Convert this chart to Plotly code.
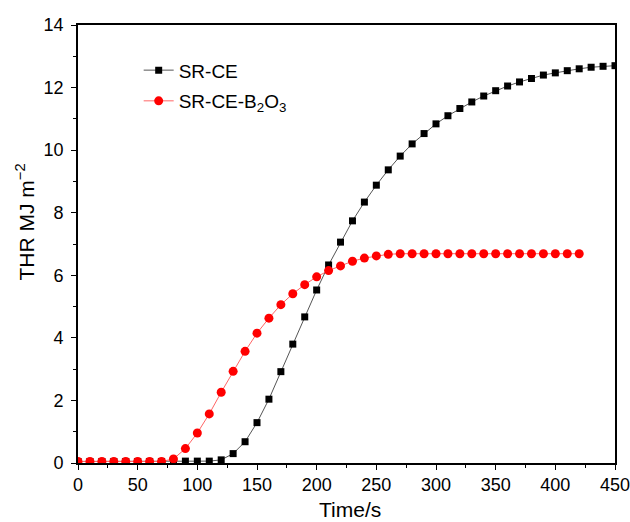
import plotly.graph_objects as go

# Time axis (s), sampled every 10 s
time_sr_ce = list(range(0, 451, 10))
time_sr_ce_b2o3 = list(range(0, 421, 10))

# Total heat release (MJ m^-2)
thr_sr_ce = [
    0.05, 0.05, 0.05, 0.05, 0.05, 0.05, 0.05, 0.05, 0.05, 0.06,
    0.06, 0.06, 0.10, 0.30, 0.68, 1.29, 2.04, 2.92, 3.80, 4.67,
    5.53, 6.33, 7.06, 7.74, 8.34, 8.88, 9.37, 9.81, 10.20, 10.53,
    10.84, 11.10, 11.33, 11.54, 11.73, 11.90, 12.05, 12.18, 12.29, 12.40,
    12.47, 12.54, 12.60, 12.65, 12.68, 12.70,
]
thr_sr_ce_b2o3 = [
    0.05, 0.05, 0.05, 0.05, 0.05, 0.05, 0.05, 0.05, 0.13, 0.46,
    0.96, 1.57, 2.26, 2.93, 3.57, 4.15, 4.63, 5.06, 5.41, 5.70,
    5.95, 6.15, 6.30, 6.45, 6.55, 6.62, 6.67, 6.69, 6.69, 6.69,
    6.69, 6.69, 6.69, 6.69, 6.69, 6.69, 6.69, 6.69, 6.69, 6.69,
    6.69, 6.69, 6.69,
]

FONT = "Liberation Sans, Arial, Helvetica, sans-serif"

fig = go.Figure()
fig.add_trace(go.Scatter(
    x=time_sr_ce, y=thr_sr_ce, name="SR-CE", legendgroup="a",
    mode="lines+markers",
    line=dict(color="#555555", width=1),
    marker=dict(symbol="square", size=7, color="black"),
))
fig.add_trace(go.Scatter(
    x=time_sr_ce_b2o3, y=thr_sr_ce_b2o3, name="SR-CE-B<sub>2</sub>O<sub>3</sub>",
    legendgroup="b",
    mode="lines+markers",
    line=dict(color="#ff6666", width=1),
    marker=dict(symbol="circle", size=9, color="red"),
))

axis_common = dict(
    showline=True, linecolor="black", linewidth=1.6, mirror=True,
    ticks="outside", ticklen=5, tickwidth=1.2, tickcolor="black",
    showgrid=False, zeroline=False, automargin=False,
    tickfont=dict(family=FONT, size=18, color="black"),
)

fig.update_xaxes(
    range=[0, 450], dtick=50, tick0=0,
    ticklabeloverflow="allow",
    minor=dict(ticks="outside", ticklen=3, tickwidth=1.2, tickcolor="black", dtick=25),
    **axis_common,
)
fig.update_yaxes(
    range=[0, 14], dtick=2, tick0=0,
    ticklabelstandoff=4,
    minor=dict(ticks="outside", ticklen=3, tickwidth=1.2, tickcolor="black", dtick=1),
    **axis_common,
)

# Axis titles
fig.add_annotation(
    text="THR MJ m<sup>\u22122</sup>", textangle=-90,
    xref="paper", yref="paper", x=-0.098, y=0.55,
    xanchor="center", yanchor="middle", showarrow=False,
    font=dict(family=FONT, size=21, color="black"),
)
fig.add_annotation(
    text="Time/s",
    xref="paper", yref="paper", x=0.507, y=-0.107,
    xanchor="center", yanchor="middle", showarrow=False,
    font=dict(family=FONT, size=21, color="black"),
)

fig.update_layout(
    width=630, height=522,
    margin=dict(l=78, r=15, t=25, b=59),
    plot_bgcolor="white", paper_bgcolor="white",
    font=dict(family=FONT, size=18, color="black"),
    legend=dict(
        x=0.113, y=0.94, xanchor="left", yanchor="top",
        bgcolor="rgba(0,0,0,0)", borderwidth=0,
        font=dict(family=FONT, size=19, color="black"),
        traceorder="grouped", tracegroupgap=3,
    ),
)

fig.write_html("out.html")
